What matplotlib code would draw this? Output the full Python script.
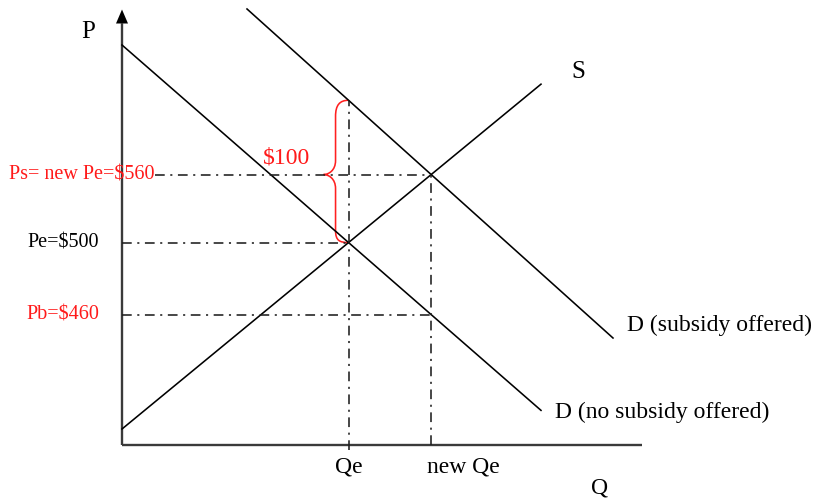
import matplotlib.pyplot as plt
from matplotlib.path import Path
from matplotlib.patches import PathPatch, FancyArrow

plt.rcParams['font.family'] = ['Liberation Serif', 'DejaVu Serif']
plt.rcParams['lines.scale_dashes'] = False

# schematic units: Q along the horizontal axis, P up the vertical axis
d0_intercept, d0_slope = 400.0, -0.872      # demand, no subsidy
d1_intercept, d1_slope = 548.4, -0.899      # demand, subsidy offered
s_intercept, s_slope = 16.0, 0.823          # supply

d0_q = [0, 419]
d1_q = [125, 491]
s_q = [0, 419]

price_labels = ['Ps= new Pe=$560', 'Pe=$500', 'Pb=$460']
qty_labels = ['Qe', 'new Qe']
subsidy_label = '$100'


def line(a, b, q):
    return [a + b * x for x in q]


# equilibria from the curves
qe = (d0_intercept - s_intercept) / (s_slope - d0_slope)
pe = s_intercept + s_slope * qe
new_qe = (d1_intercept - s_intercept) / (s_slope - d1_slope)
ps = s_intercept + s_slope * new_qe
pb = d0_intercept + d0_slope * new_qe
p_top = d1_intercept + d1_slope * qe

fig = plt.figure(figsize=(8.2, 5), dpi=100)
ax = fig.add_axes([0, 0, 1, 1])
ax.set_xlim(-122, 698)
ax.set_ylim(-55, 445)
ax.axis('off')

# axes of the diagram
axis_col = '#3a3a3a'
ax.plot([0, 0], [0, 422], color=axis_col, lw=1.7, solid_capstyle='butt')
ax.plot([0, 520], [0, 0], color=axis_col, lw=1.7, solid_capstyle='butt')
ax.add_patch(FancyArrow(0, 421, 0, 0.5, width=0, head_width=12, head_length=14,
                        length_includes_head=False, color='black', lw=0))

# curves
ax.plot(d0_q, line(d0_intercept, d0_slope, d0_q), color='black', lw=1.15)
ax.plot(d1_q, line(d1_intercept, d1_slope, d1_q), color='black', lw=1.15)
ax.plot(s_q, line(s_intercept, s_slope, s_q), color='black', lw=1.15)

# dash-dot guides
dd = dict(color='#1e1e1e', lw=1.15, dashes=(7, 4, 1.5, 4))
ax.plot([33, new_qe], [ps, ps], **dd)
ax.plot([0, qe], [pe, pe], **dd)
ax.plot([0, new_qe], [pb, pb], **dd)
ax.plot([qe, qe], [-5, p_top], **dd)
ax.plot([new_qe, new_qe], [0, ps], **dd)

# subsidy brace
xs, xt = qe - 13, qe - 25
mid = ps
verts = [(qe, p_top), (qe - 9, p_top), (xs, p_top - 5), (xs, p_top - 16),
         (xs, mid + 14),
         (xs, mid + 4), (xt + 5, mid), (xt, mid),
         (xt + 5, mid), (xs, mid - 4), (xs, mid - 14),
         (xs, pe + 12),
         (xs, pe + 2), (qe - 9, pe), (qe, pe)]
codes = [Path.MOVETO] + [Path.CURVE4] * 3 + [Path.LINETO] + [Path.CURVE4] * 6 \
    + [Path.LINETO] + [Path.CURVE4] * 3
ax.add_patch(PathPatch(Path(verts, codes), fill=False, ec='#ff2020', lw=1.15))

# text
red = '#ff1a1a'
big = 17
ax.text(-34, 413, 'P', fontsize=18, ha='center', va='center')
ax.text(456, 373, 'S', fontsize=18, ha='center', va='center')
ax.text(478, -43, 'Q', fontsize=big, ha='center', va='center')
ax.text(505, 120, 'D (subsidy offered)', fontsize=big, ha='left', va='center')
ax.text(433, 33, 'D (no subsidy offered)', fontsize=big, ha='left', va='center')
ax.text(qe, -22, qty_labels[0], fontsize=big, ha='center', va='center')
ax.text(new_qe - 4, -22, qty_labels[1], fontsize=big, ha='left', va='center')
ax.text(33, ps, price_labels[0], fontsize=14.5, color=red, ha='right', va='center')
ax.text(-23, pe, price_labels[1], fontsize=14.5, color='black', ha='right', va='center')
ax.text(-23, pb, price_labels[2], fontsize=14.5, color=red, ha='right', va='center')
ax.text(165, 287, subsidy_label, fontsize=big, color=red, ha='center', va='center')

fig.savefig('out.png', dpi=100)
